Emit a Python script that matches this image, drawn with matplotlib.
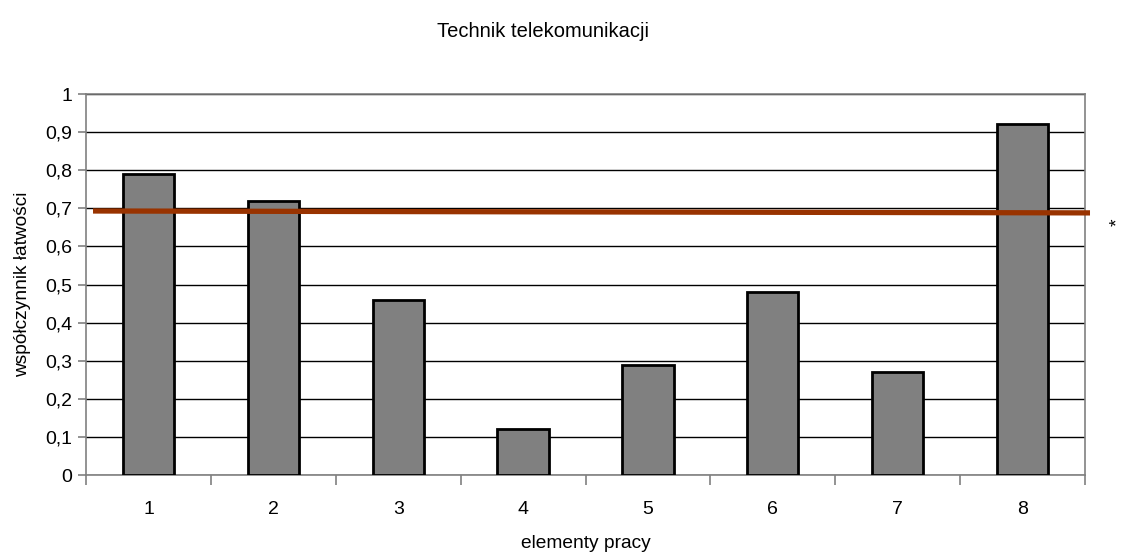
import numpy as np
from matplotlib import pyplot as plt
import matplotlib.ticker as mtick

plt.rcParams['font.family'] = ['Liberation Sans', 'DejaVu Sans']

# data
elements = ['1', '2', '3', '4', '5', '6', '7', '8']
values = [0.79, 0.72, 0.46, 0.12, 0.29, 0.48, 0.27, 0.92]
line_x = [0.556, 8.54]
line_y = [0.693, 0.688]

fig = plt.figure(figsize=(11.26, 5.53), dpi=100)
ax = fig.add_axes([0.0764, 0.141, 0.8872, 0.689])

x = np.arange(1, len(values) + 1)
ax.bar(x, values, width=0.41, color='#808080', edgecolor='black', linewidth=2, zorder=3)

# the red reference line (drawn by hand in the original, slightly sloped)
ax.plot(line_x, line_y, color='#993300', linewidth=3.8, solid_capstyle='butt',
        clip_on=False, zorder=4)

ax.set_xlim(0.5, 8.5)
ax.set_ylim(0, 1)
ax.yaxis.set_major_locator(mtick.MultipleLocator(0.1))
ax.yaxis.set_major_formatter(mtick.FuncFormatter(
    lambda v, p: ('%g' % round(v, 1)).replace('.', ',')))
ax.grid(axis='y', color='black', linewidth=1, zorder=0)

ax.set_xticks(x)
ax.set_xticklabels(elements)
ax.set_xticks(np.arange(0.5, 9, 1), minor=True)
ax.tick_params(axis='x', which='major', length=0, pad=19, labelsize=14)
ax.tick_params(axis='x', which='minor', length=7, color='#808080', width=1.2)
ax.tick_params(axis='y', length=6, color='#808080', width=1.2, labelsize=14, pad=4)

for s in ax.spines.values():
    s.set_color('#808080')
    s.set_linewidth(1.2)

ax.set_xlabel('elementy pracy', fontsize=13.8, labelpad=12)
ax.set_ylabel('współczynnik łatwości', fontsize=13.8, labelpad=10)
fig.text(0.482, 0.943, 'Technik telekomunikacji', ha='center', va='center', fontsize=14.5)
fig.text(0.993, 0.598, '*', ha='center', va='center', rotation=90, fontsize=14)

plt.savefig('out.png', dpi=100)
